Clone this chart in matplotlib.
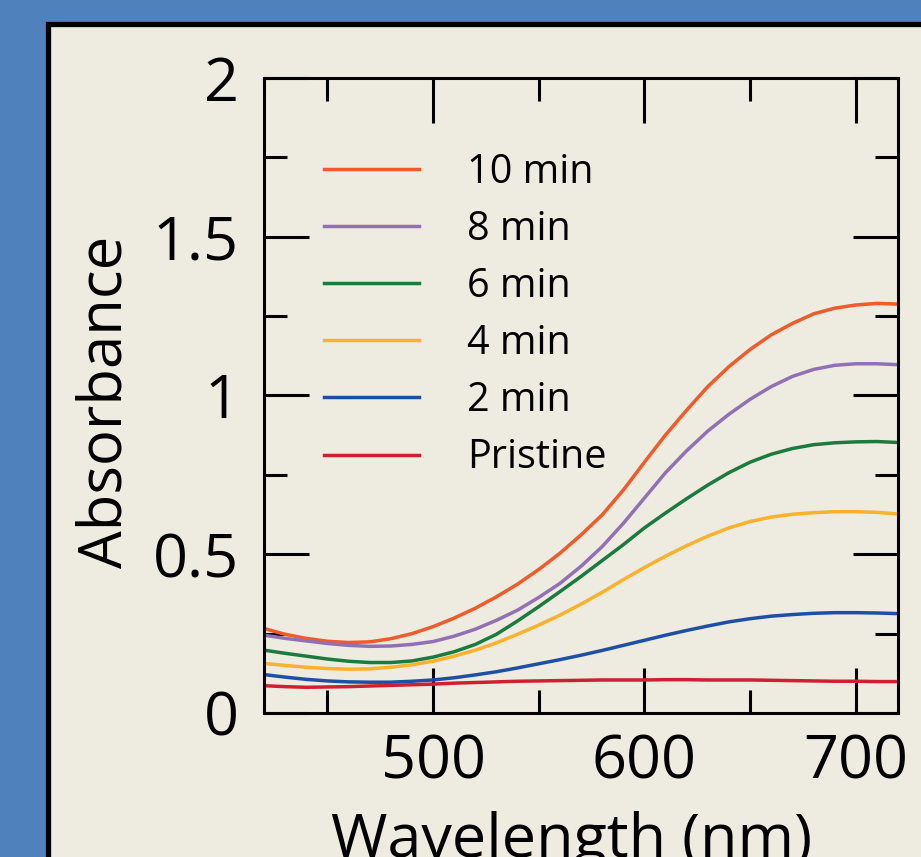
import matplotlib
matplotlib.use("Agg")
import matplotlib.pyplot as plt
from matplotlib.patches import Rectangle
from matplotlib.ticker import MultipleLocator, FixedLocator, FixedFormatter

# wavelength grid (nm) and absorbance values
wavelength = list(range(420, 721, 10))

abs_10min = [0.266, 0.248, 0.235, 0.226, 0.222, 0.224, 0.234, 0.250, 0.272, 0.299,
             0.330, 0.366, 0.406, 0.452, 0.503, 0.561, 0.624, 0.702, 0.790, 0.876,
             0.954, 1.028, 1.091, 1.145, 1.191, 1.227, 1.257, 1.275, 1.285, 1.290,
             1.288]
abs_8min = [0.245, 0.235, 0.227, 0.219, 0.213, 0.210, 0.211, 0.216, 0.225, 0.242,
            0.264, 0.292, 0.324, 0.364, 0.408, 0.462, 0.524, 0.597, 0.677, 0.757,
            0.826, 0.888, 0.941, 0.988, 1.028, 1.060, 1.082, 1.095, 1.100, 1.100,
            1.097]
abs_6min = [0.198, 0.188, 0.179, 0.170, 0.163, 0.159, 0.159, 0.164, 0.176, 0.193,
            0.216, 0.248, 0.290, 0.335, 0.382, 0.430, 0.480, 0.530, 0.583, 0.630,
            0.675, 0.718, 0.757, 0.790, 0.815, 0.833, 0.845, 0.851, 0.854, 0.855,
            0.852]
abs_4min = [0.156, 0.150, 0.144, 0.140, 0.138, 0.139, 0.144, 0.152, 0.163, 0.179,
            0.198, 0.221, 0.248, 0.277, 0.308, 0.343, 0.380, 0.420, 0.458, 0.494,
            0.527, 0.557, 0.583, 0.603, 0.617, 0.626, 0.631, 0.634, 0.634, 0.632,
            0.627]
abs_2min = [0.121, 0.113, 0.106, 0.101, 0.098, 0.097, 0.097, 0.100, 0.104, 0.111,
            0.120, 0.130, 0.142, 0.155, 0.168, 0.182, 0.197, 0.213, 0.229, 0.245,
            0.260, 0.274, 0.287, 0.297, 0.305, 0.310, 0.314, 0.316, 0.316, 0.315,
            0.313]
abs_pristine = [0.086, 0.083, 0.081, 0.082, 0.083, 0.085, 0.087, 0.089, 0.091, 0.094,
                0.096, 0.098, 0.100, 0.101, 0.102, 0.103, 0.104, 0.104, 0.104, 0.105,
                0.105, 0.104, 0.104, 0.104, 0.103, 0.102, 0.101, 0.100, 0.100, 0.099,
                0.099]

labels = ["10 min", "8 min", "6 min", "4 min", "2 min", "Pristine"]
colors = ["#f15a29", "#9170b6", "#1b7a3e", "#fbb12b", "#1d4fa6", "#cf2031"]

ytick_vals = [0, 0.5, 1, 1.5, 2]
ytick_text = ["0", "0.5", "1", "1.5", "2"]
xtick_vals = [500, 600, 700]

plt.rcParams["font.family"] = ["Open Sans", "DejaVu Sans"]

fig = plt.figure(figsize=(9.21, 8.57), dpi=100)
fig.patch.set_facecolor("#4f81bd")

# beige panel with thick black border, running off the right/bottom edges
W, H = 921, 857
panel = Rectangle((47.5 / W, -0.1), 1.2, 1.1 - 24.5 / H,
                  transform=fig.transFigure, facecolor="#eeebe1",
                  edgecolor="black", linewidth=3.8, zorder=-10)
fig.patches.append(panel)

ax = fig.add_axes([264 / W, 1 - 713 / H, (898 - 264) / W, (713 - 78) / H])
ax.set_facecolor("none")

series = [abs_10min, abs_8min, abs_6min, abs_4min, abs_2min, abs_pristine]
for vals, lab, col in zip(series, labels, colors):
    ax.plot(wavelength, vals, color=col, lw=2.5, label=lab,
            solid_joinstyle="round")

ax.set_xlim(420, 720)
ax.set_ylim(0, 2)

ax.xaxis.set_major_locator(FixedLocator(xtick_vals))
ax.xaxis.set_minor_locator(MultipleLocator(100, offset=50))
ax.yaxis.set_major_locator(FixedLocator(ytick_vals))
ax.yaxis.set_major_formatter(FixedFormatter(ytick_text))
ax.yaxis.set_minor_locator(MultipleLocator(0.25))

ax.tick_params(which="both", direction="in", top=True, right=True,
               width=2.2, labelsize=44, colors="black")
ax.tick_params(which="major", length=32.5)
ax.tick_params(which="minor", length=16.5)
ax.tick_params(axis="y", pad=18)
ax.tick_params(axis="x", pad=14)
for sp in ax.spines.values():
    sp.set_linewidth(2.2)

ax.set_ylabel("Absorbance", fontsize=43)
ax.set_xlabel("Wavelength (nm)", fontsize=44)
ax.yaxis.set_label_coords(-0.203, 0.49)
ax.xaxis.set_label_coords(0.485, -0.155)

leg = ax.legend(loc="upper left", bbox_to_anchor=(0.07, 0.908), frameon=False,
                fontsize=28.5, handlelength=2.4, handletextpad=1.2,
                labelspacing=0.42, borderaxespad=0)
for line in leg.get_lines():
    line.set_linewidth(2.5)

fig.savefig("out.png", dpi=100, facecolor=fig.get_facecolor())
